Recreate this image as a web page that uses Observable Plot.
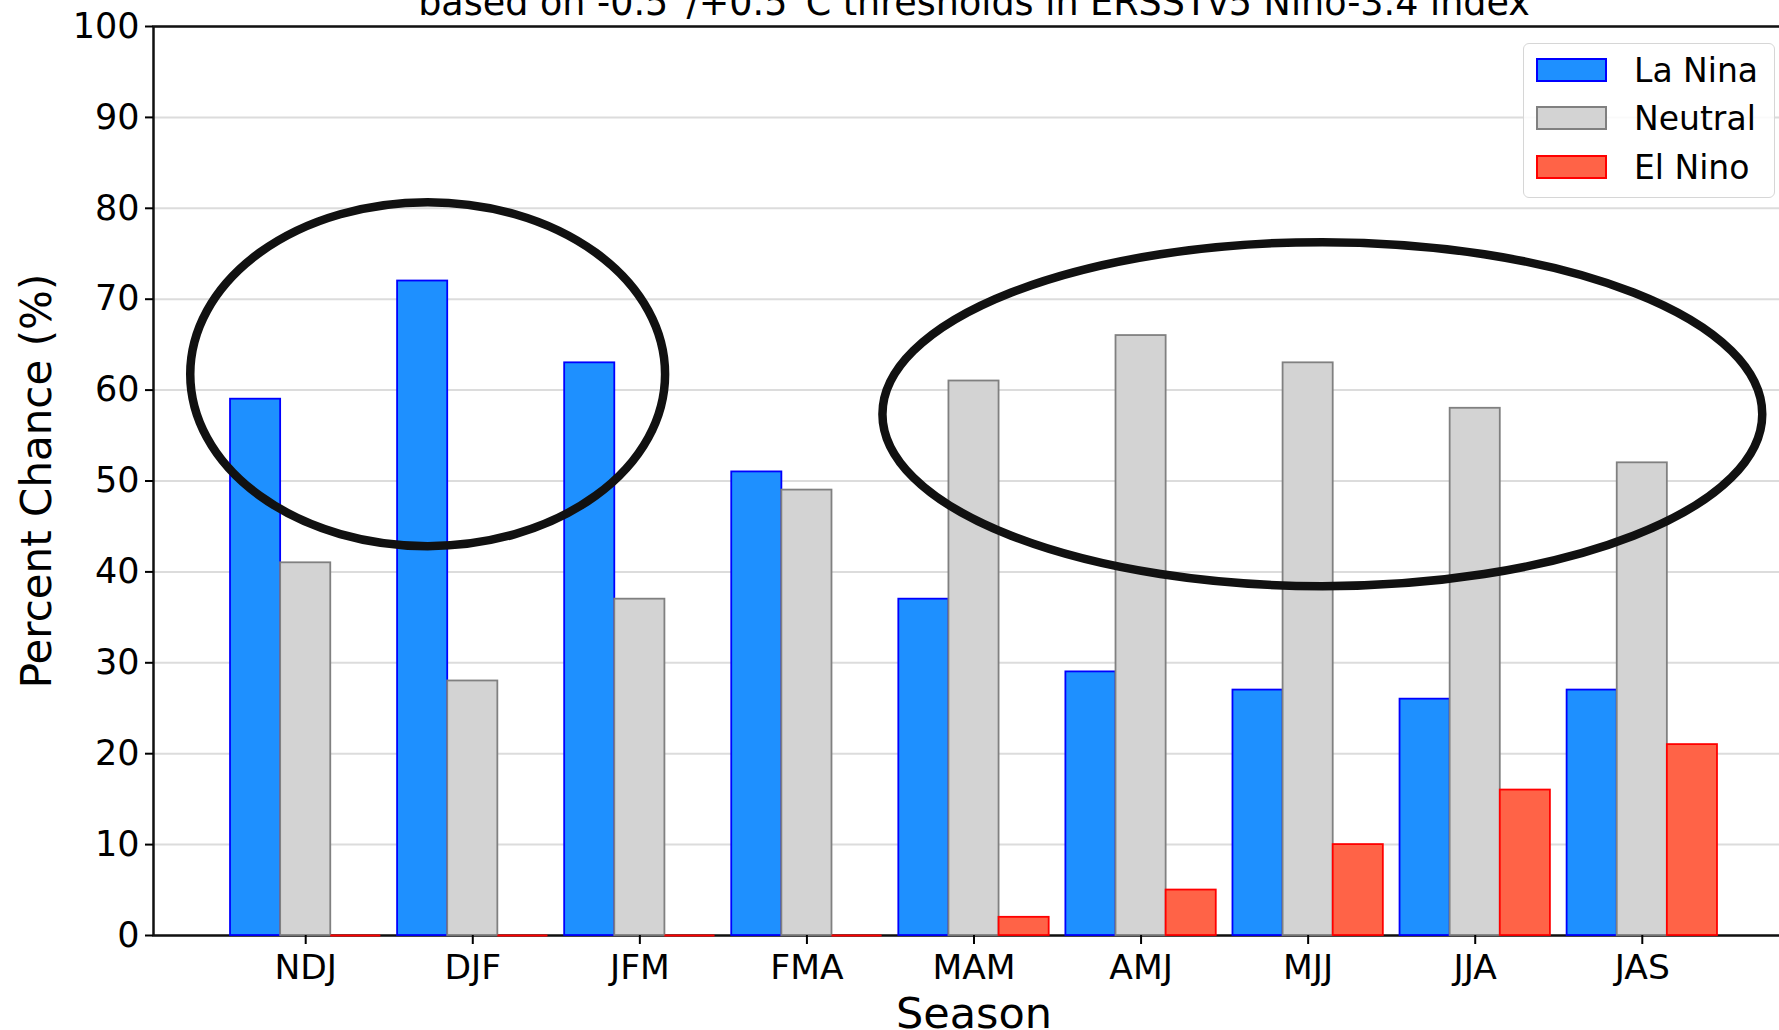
<!DOCTYPE html>
<html>
<head>
<meta charset="utf-8">
<script src="https://cdn.jsdelivr.net/npm/d3@7"></script>
<script src="https://cdn.jsdelivr.net/npm/@observablehq/plot@0.6"></script>
<style>
html, body { margin: 0; padding: 0; background: #fff; overflow: hidden; }
#wrap { position: relative; width: 1779px; height: 1030px; overflow: hidden; }
#legend {
  position: absolute; left: 1523px; top: 43px; width: 250px; height: 153px;
  border: 1.5px solid #d6d6d6; border-radius: 6px; background: rgba(255,255,255,0.85);
  font-family: "DejaVu Sans"; font-size: 33px; color: #000;
}
.sw { position: absolute; left: 12px; width: 67px; height: 20px; border-width: 2px; border-style: solid; box-sizing: content-box; }
.lab { position: absolute; left: 110px; line-height: 1; white-space: nowrap; }
</style>
</head>
<body>
<div id="wrap"><div id="chart"></div><div id="legend"></div></div>
<script>
// ---- data ----
const seasons = ["NDJ", "DJF", "JFM", "FMA", "MAM", "AMJ", "MJJ", "JJA", "JAS"];
const laNina  = [59, 72, 63, 51, 37, 29, 27, 26, 27];
const neutral = [41, 28, 37, 49, 61, 66, 63, 58, 52];
const elNino  = [0, 0, 0, 0, 2, 5, 10, 16, 21];
const seriesNames = ["La Nina", "Neutral", "El Nino"];
const yTicks = [0, 10, 20, 30, 40, 50, 60, 70, 80, 90, 100];
const titleText = "based on -0.5°/+0.5°C thresholds in ERSSTv5 Nino-3.4 index";
const xLabel = "Season";
const yLabel = "Percent Chance (%)";
// highlight ellipses (data units: season index, percent)
const ellipseCx = [0.733, 6.088];
const ellipseCy = [61.7, 57.3];
const ellipseRx = [1.421, 2.633];
const ellipseRy = [18.92, 18.92];

// ---- styles ----
const seriesValues = [laNina, neutral, elNino];
const fills = ["#1E90FF", "#D3D3D3", "#FF6347"];
const strokes = ["#0000FF", "#808080", "#FF0000"];
const offsets = [-0.3, 0, 0.3];
const barW = 0.3;

const barMarks = seriesValues.flatMap((vals, k) => {
  const rows = seasons.map((s, i) => ({season: s, i, value: vals[i]}));
  const x1 = d => d.i + offsets[k] - barW / 2;
  const x2 = d => d.i + offsets[k] + barW / 2;
  return [
    Plot.rect(rows.filter(d => d.value > 0), {
      x1, x2, y1: 0, y2: "value",
      fill: fills[k], stroke: strokes[k], strokeWidth: 1.8
    }),
    // zero-height bars still show their edge as a line at 0
    Plot.ruleY(rows.filter(d => d.value === 0), {
      x1, x2, y: "value", stroke: strokes[k], strokeWidth: 1.8
    })
  ];
});

const ellipseMark = (index, scales) => {
  const g = d3.create("svg:g");
  ellipseCx.forEach((cx, k) => {
    const px = scales.x(cx), py = scales.y(ellipseCy[k]);
    g.append("ellipse")
      .attr("cx", px).attr("cy", py)
      .attr("rx", Math.abs(scales.x(cx + ellipseRx[k]) - px))
      .attr("ry", Math.abs(scales.y(ellipseCy[k] + ellipseRy[k]) - py))
      .attr("fill", "none").attr("stroke", "#111").attr("stroke-width", 8.5);
  });
  return g.node();
};

const chart = Plot.plot({
  width: 1794,
  height: 1030,
  marginLeft: 153,
  marginRight: 0,
  marginTop: 26,
  marginBottom: 95,
  style: {fontFamily: "DejaVu Sans", fontSize: "34px", color: "#000", background: "#fff", maxWidth: "none", overflow: "visible"},
  x: {type: "linear", domain: [-0.911, 8.911]},
  y: {type: "linear", domain: [0, 100]},
  marks: [
    Plot.gridY(yTicks, {stroke: "#dcdcdc", strokeOpacity: 1, strokeWidth: 2}),
    Plot.frame({stroke: "#111", strokeWidth: 2.5}),
    ...barMarks,
    Plot.axisX(d3.range(seasons.length), {tickFormat: i => seasons[i], tickSize: 9, tickPadding: 10, fontSize: 34.5, strokeWidth: 2, label: null}),
    Plot.axisY(yTicks, {tickSize: 8, tickPadding: 6, fontSize: 35, strokeWidth: 2, label: null}),
    Plot.text([titleText], {text: d => d, frameAnchor: "top", dy: -12, lineAnchor: "bottom", textAnchor: "middle", fontSize: 36.5}),
    Plot.text([xLabel], {text: d => d, frameAnchor: "bottom", dy: 92, lineAnchor: "bottom", textAnchor: "middle", fontSize: 43}),
    Plot.text([yLabel], {text: d => d, frameAnchor: "left", dx: -103, rotate: -90, lineAnchor: "bottom", textAnchor: "middle", fontSize: 42}),
    ellipseMark
  ]
});
document.getElementById("chart").appendChild(chart);

// ---- legend ----
const legend = document.getElementById("legend");
seriesNames.forEach((name, k) => {
  const sw = document.createElement("div");
  sw.className = "sw";
  sw.style.top = (14 + k * 48.3) + "px";
  sw.style.background = fills[k];
  sw.style.borderColor = strokes[k];
  legend.appendChild(sw);
  const lab = document.createElement("div");
  lab.className = "lab";
  lab.style.top = (10 + k * 48.3) + "px";
  lab.textContent = name;
  legend.appendChild(lab);
});
</script>
</body>
</html>
